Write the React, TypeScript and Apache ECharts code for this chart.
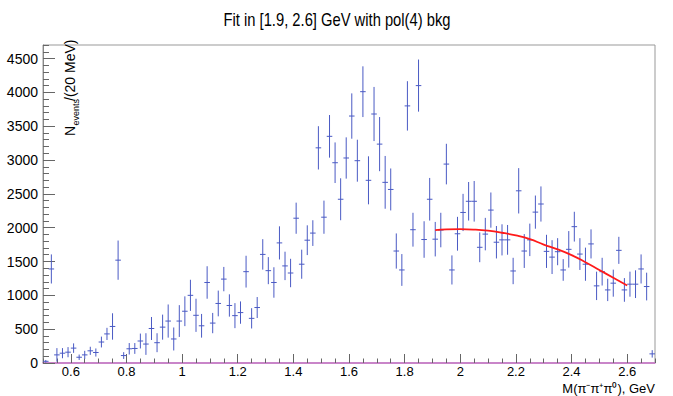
import React, { useEffect, useRef } from 'react';
import * as echarts from 'echarts';

// Histogram binning (GeV)
const binLow = 0.5;
const binWidth = 0.02;

// Bin contents, N events / 20 MeV (bins centred at 0.51, 0.53, ..., 2.69)
const counts = [
  25, 1390, 120, 145, 160, 220, 85, 120, 180, 155,
  310, 430, 540, 1520, 110, 210, 215, 325, 280, 510,
  300, 530, 620, 355, 620, 765, 1000, 705, 550, 1190,
  590, 880, 1240, 850, 700, 745, 1350, 660, 820, 1605,
  1365, 1190, 1775, 1435, 1330, 2140, 1460, 1815, 1920, 3180,
  2155, 3350, 2960, 2420, 3030, 3650, 2990, 4010, 2700, 3680,
  3235, 2670, 2565, 1655, 1375, 3800, 1970, 4100, 1825, 2420,
  1830, 1965, 2940, 1375, 1910, 2225, 2390, 2390, 1710, 1905,
  2260, 1785, 1820, 1820, 1360, 2545, 1655, 1820, 2230, 2350,
  1650, 1565, 1645, 1375, 1680, 2015, 1610, 1460, 1760, 1140,
  1350, 1080, 1180, 1665, 1080, 1165, 1165, 1390, 1130, 135,
];

// Bin errors (half length of the vertical error bar)
const errors = [
  20, 215, 100, 75, 75, 70, 40, 60, 60, 60,
  80, 90, 195, 290, 50, 85, 80, 110, 160, 170,
  140, 185, 245, 170, 235, 220, 230, 245, 175, 240,
  150, 190, 180, 165, 185, 165, 235, 150, 155, 225,
  200, 225, 245, 210, 210, 230, 215, 220, 190, 320,
  245, 315, 300, 310, 305, 335, 310, 375, 355, 400,
  400, 390, 310, 260, 235, 365, 250, 385, 270, 315,
  255, 255, 300, 215, 250, 275, 285, 300, 220, 240,
  260, 240, 230, 220, 195, 335, 250, 240, 245, 260,
  245, 250, 200, 160, 270, 220, 235, 245, 215, 210,
  205, 165, 200, 200, 175, 185, 205, 215, 205, 55,
];

// Fit curve (pol(4) background)
const fitX = [1.91, 1.95, 2.0, 2.05, 2.1, 2.15, 2.2, 2.25, 2.3, 2.35, 2.4, 2.45, 2.5, 2.55, 2.6];
const fitY = [1965, 1975, 1978, 1972, 1955, 1925, 1885, 1830, 1750, 1680, 1595, 1490, 1375, 1260, 1145];

const titleText = 'Fit in [1.9, 2.6] GeV with pol(4) bkg';
const xTitle = 'M(\u03c0\u207b\u03c0\u207a\u03c0\u2070), GeV';

const FONT = "'Liberation Sans', Arial, sans-serif";
const BAR = '#4a5ac4';

export default function App() {
  const ref = useRef<HTMLDivElement>(null);
  useEffect(() => {
    document.body.style.margin = '0';
    if (!ref.current) return;
    const chart = echarts.init(ref.current, undefined, { renderer: 'svg' });
    const histData = counts.map((c, i) => [binLow + binWidth * (i + 0.5), c, errors[i]]);
    const fitData = fitX.map((x, i) => [x, fitY[i]]);
    const axisCommon = { min: binLow, max: 2.7, type: 'value' as const };
    chart.setOption({
      animation: false,
      backgroundColor: '#ffffff',
      grid: { left: 43, right: 18, top: 45, bottom: 33, show: true, borderColor: '#999', borderWidth: 1 },
      xAxis: [
        {
          ...axisCommon,
          position: 'bottom',
          splitNumber: 11,
          axisLine: { show: true, lineStyle: { color: '#c86ec8', width: 1.5 } },
          axisTick: { show: true, inside: true, length: 9, lineStyle: { color: '#666' } },
          axisLabel: { show: true, fontFamily: FONT, fontSize: 13, color: '#000', margin: 2, showMinLabel: false, showMaxLabel: false, formatter: (v: number) => String(v) },
          splitLine: { show: false },
        },
        {
          ...axisCommon,
          position: 'bottom',
          interval: 0.05,
          axisLine: { show: false },
          axisTick: { show: true, inside: true, length: 4.5, lineStyle: { color: '#666' } },
          axisLabel: { show: false },
          splitLine: { show: false },
        },
      ],
      yAxis: [
        {
          type: 'value', min: 0, max: 4700, interval: 500, position: 'left',
          axisLine: { show: true, lineStyle: { color: '#888' } },
          axisTick: { show: true, inside: true, length: 12, lineStyle: { color: '#666' } },
          axisLabel: { show: true, fontFamily: FONT, fontSize: 14, color: '#000', margin: 5, showMaxLabel: false, formatter: (v: number) => String(v) },
          splitLine: { show: false },
        },
        {
          type: 'value', min: 0, max: 4700, interval: 100, position: 'left',
          axisLine: { show: false },
          axisTick: { show: true, inside: true, length: 6, lineStyle: { color: '#666' } },
          axisLabel: { show: false },
          splitLine: { show: false },
        },
      ],
      series: [
        {
          type: 'custom',
          xAxisIndex: 0,
          yAxisIndex: 0,
          clip: true,
          encode: { x: 0, y: 1 },
          data: histData,
          renderItem: (params: any, api: any) => {
            const x = api.value(0);
            const y = api.value(1);
            const e = api.value(2);
            const top = api.coord([x, y + e]);
            const bot = api.coord([x, Math.max(0, y - e)]);
            const l = api.coord([x - binWidth / 2, y]);
            const r = api.coord([x + binWidth / 2, y]);
            return {
              type: 'group',
              children: [
                { type: 'line', shape: { x1: top[0], y1: top[1], x2: bot[0], y2: bot[1] }, style: { stroke: BAR, lineWidth: 1 } },
                { type: 'line', shape: { x1: l[0], y1: l[1], x2: r[0], y2: r[1] }, style: { stroke: BAR, lineWidth: 1 } },
              ],
            };
          },
        },
        {
          type: 'line',
          xAxisIndex: 0,
          yAxisIndex: 0,
          data: fitData,
          smooth: true,
          showSymbol: false,
          lineStyle: { color: '#ff1a1a', width: 1.8 },
          z: 5,
        },
      ],
      graphic: [
        {
          type: 'text', x: 337, y: 19, scaleX: 0.82,
          style: { text: titleText, fontFamily: FONT, fontSize: 18, fill: '#000', textAlign: 'center', textVerticalAlign: 'middle' },
        },
        {
          type: 'text', x: 655, y: 388,
          style: { text: xTitle, fontFamily: FONT, fontSize: 13, fill: '#000', textAlign: 'right', textVerticalAlign: 'middle' },
        },
        {
          type: 'group', x: 77, y: 136, rotation: Math.PI / 2,
          children: [
            { type: 'text', x: 0, y: 0, style: { text: 'N', fontFamily: FONT, fontSize: 14, fill: '#000', textAlign: 'left', textVerticalAlign: 'bottom' } },
            { type: 'text', x: 10.5, y: 3, style: { text: 'events', fontFamily: FONT, fontSize: 9, fill: '#000', textAlign: 'left', textVerticalAlign: 'bottom' } },
            { type: 'text', x: 35, y: 0, style: { text: '/(20 MeV)', fontFamily: FONT, fontSize: 14, fill: '#000', textAlign: 'left', textVerticalAlign: 'bottom' } },
          ],
        },
      ],
    });
    return () => chart.dispose();
  }, []);
  return <div ref={ref} style={{ width: 673, height: 396 }} />;
}
